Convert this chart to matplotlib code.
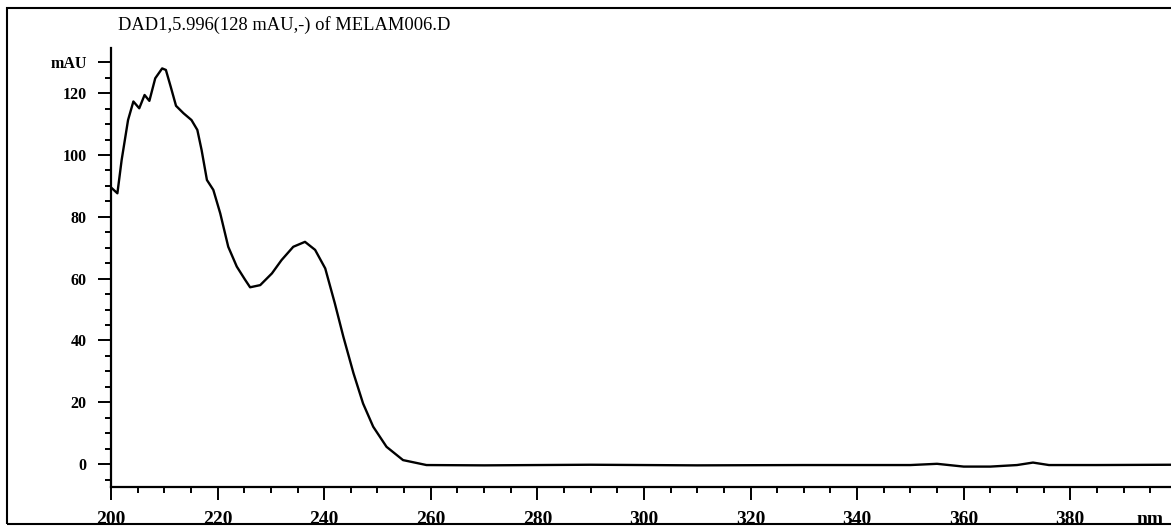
import matplotlib
matplotlib.use("Agg")
import matplotlib.pyplot as plt
from matplotlib.patches import Rectangle
from matplotlib.ticker import MultipleLocator, FixedLocator

# Spectrum
wavelength = [200, 201.2, 202.0, 203.2, 204.2, 205.3, 206.3, 207.2, 208.3, 209.6,
              210.3, 211.2, 212.2, 213.6, 215.1, 216.2, 217.0, 218.0, 219.2, 220.5,
              222.0, 223.6, 225.1, 226.1, 228.0, 230.2, 232.0, 234.2, 236.4, 238.3,
              240.2, 242.0, 243.6, 245.5, 247.3, 249.2, 251.7, 254.8, 259.2, 270,
              290, 310, 330, 350, 355, 360, 365, 370, 373, 376, 385, 399]
absorbance = [89.5, 87.6, 98.4, 111.3, 117.3, 115.1, 119.4, 117.5, 124.8, 128.0,
              127.5, 122.1, 115.9, 113.5, 111.3, 108.1, 101.6, 91.9, 88.7, 81.1,
              70.3, 63.9, 59.8, 57.2, 57.9, 61.7, 66.0, 70.3, 71.9, 69.3,
              63.3, 52.0, 41.2, 29.4, 19.6, 12.1, 5.6, 1.3, -0.3, -0.4,
              -0.2, -0.4, -0.3, -0.3, 0.1, -0.8, -0.8, -0.3, 0.5, -0.3, -0.3, -0.2]

x_major = [200, 220, 240, 260, 280, 300, 320, 340, 360, 380]
y_major = [0, 20, 40, 60, 80, 100, 120, 130]
y_labels = ["0", "20", "40", "60", "80", "100", "120", "mAU"]
title = "DAD1,5.996(128 mAU,-) of MELAM006.D"

plt.rcParams["font.family"] = ["Liberation Serif", "DejaVu Serif"]

fig = plt.figure(figsize=(11.71, 5.26), dpi=100)
ax = fig.add_axes([111 / 1171, 1 - 487 / 526, 1 - 111 / 1171, (487 - 48) / 526])

ax.plot(wavelength, absorbance, color="black", lw=1.7)
ax.set_xlim(200, 398.9)
ax.set_ylim(-7.4, 134.6)

ax.xaxis.set_major_locator(FixedLocator(x_major))
ax.xaxis.set_minor_locator(MultipleLocator(5))
ax.yaxis.set_major_locator(FixedLocator(y_major))
ax.yaxis.set_minor_locator(MultipleLocator(5))
ax.set_xticklabels([str(v) for v in x_major], fontsize=14, fontweight="bold")
ax.set_yticklabels(y_labels, fontsize=11.5, fontweight="bold")

for s in ["top", "right"]:
    ax.spines[s].set_visible(False)
for s in ["left", "bottom"]:
    ax.spines[s].set_linewidth(1.6)
ax.tick_params(which="major", direction="out", length=9.5, width=1.4, pad=8)
ax.tick_params(which="minor", direction="out", length=4.3, width=1.4)

ax.text(395, -0.055, "nm", transform=ax.get_xaxis_transform(), ha="center", va="top",
        fontsize=14, fontweight="bold")

fig.text(118 / 1171, 1 - 25 / 526, title, ha="left", va="center", fontsize=13.3)

fig.patches.append(Rectangle((7 / 1171, 2 / 526), 1.2, 516 / 526, transform=fig.transFigure,
                             fill=False, edgecolor="black", lw=1.5))

fig.savefig("out.png", dpi=100)
